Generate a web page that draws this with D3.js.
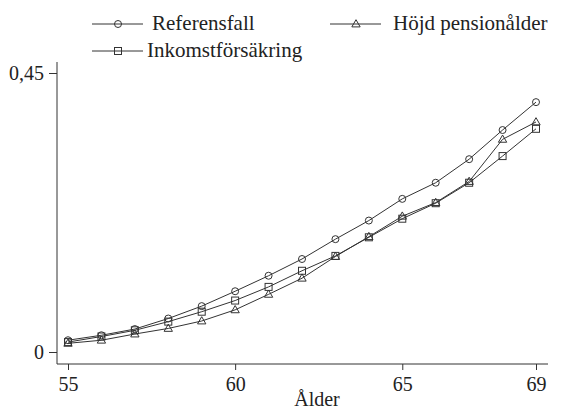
<!DOCTYPE html>
<html>
<head>
<meta charset="utf-8">
<script src="https://cdn.jsdelivr.net/npm/d3@7"></script>
<style>
  body { margin: 0; background: #fff; }
  text { font-family: "Liberation Serif", "DejaVu Serif", serif; fill: #222; }
</style>
</head>
<body>
<svg id="chart" width="561" height="412"></svg>
<script>
// data
const ages = [55, 56, 57, 58, 59, 60, 61, 62, 63, 64, 65, 66, 67, 68, 69];
const referensfall = [0.019, 0.027, 0.037, 0.054, 0.074, 0.098, 0.123, 0.150, 0.182, 0.212, 0.247, 0.273, 0.311, 0.358, 0.403];
const hojdPension = [0.014, 0.019, 0.029, 0.038, 0.050, 0.068, 0.093, 0.119, 0.154, 0.186, 0.219, 0.241, 0.275, 0.343, 0.371];
const inkomst = [0.016, 0.025, 0.035, 0.049, 0.065, 0.083, 0.105, 0.131, 0.155, 0.185, 0.215, 0.240, 0.273, 0.316, 0.360];
const xTicks = [55, 60, 65, 69];
const yTicks = [0, 0.45];
const seriesNames = ["Referensfall", "Höjd pensionålder", "Inkomstförsäkring"];

const svg = d3.select("#chart");
const ink = "#333";

let xScale = d3.scaleLinear().domain([55, 69]).range([68, 536]);
let yScale = d3.scaleLinear().domain([0, 0.45]).range([352, 73]);

// plot region frame (axes offset from data range, Stata style)
let axisX = 57, axisY = 364, axisTop = 62, axisRight = 548;

svg.append("line")
    .attr("x1", axisX).attr("x2", axisX)
    .attr("y1", axisTop).attr("y2", axisY)
    .attr("stroke", ink).attr("stroke-width", 1);
svg.append("line")
    .attr("x1", axisX).attr("x2", axisRight)
    .attr("y1", axisY).attr("y2", axisY)
    .attr("stroke", ink).attr("stroke-width", 1);

let fmt = d => d === 0 ? "0" : d3.format(".2f")(d).replace(".", ",");

let yAxis = svg.append("g")
    .attr("transform", "translate(" + axisX + ",0)")
    .call(d3.axisLeft(yScale).tickValues(yTicks).tickSize(8).tickPadding(5).tickFormat(fmt));
yAxis.select(".domain").remove();
yAxis.selectAll("line").attr("stroke", ink);
yAxis.selectAll("text").style("font-size", "20px").attr("fill", "#222")
    .style("font-family", "'Liberation Serif', serif");

let xAxis = svg.append("g")
    .attr("transform", "translate(0," + axisY + ")")
    .call(d3.axisBottom(xScale).tickValues(xTicks).tickSize(6).tickPadding(7).tickFormat(d3.format("d")));
xAxis.select(".domain").remove();
xAxis.selectAll("line").attr("stroke", ink);
xAxis.selectAll("text").style("font-size", "20px").attr("fill", "#222")
    .style("font-family", "'Liberation Serif', serif");

svg.append("text")
    .attr("x", 317)
    .attr("y", 406)
    .attr("text-anchor", "middle")
    .style("font-size", "20px")
    .text("Ålder");

// markers
let drawMarker = function (g, type, x, y) {
    if (type === "circle") {
        g.append("circle").attr("cx", x).attr("cy", y).attr("r", 3.5)
            .attr("fill", "none").attr("stroke", ink).attr("stroke-width", 1);
    } else if (type === "square") {
        g.append("rect").attr("x", x - 3.5).attr("y", y - 3.5).attr("width", 7).attr("height", 7)
            .attr("fill", "none").attr("stroke", ink).attr("stroke-width", 1);
    } else {
        g.append("path")
            .attr("d", d3.symbol().type(d3.symbolTriangle).size(30)())
            .attr("transform", "translate(" + x + "," + (y + 0.5) + ")")
            .attr("fill", "none").attr("stroke", ink).attr("stroke-width", 1);
    }
};

let series = [
    { name: seriesNames[0], values: referensfall, marker: "circle" },
    { name: seriesNames[1], values: hojdPension, marker: "triangle" },
    { name: seriesNames[2], values: inkomst, marker: "square" }
];

let line = d3.line()
    .x(d => xScale(d.age))
    .y(d => yScale(d.v));

let plot = svg.append("g");
for (let s of series) {
    let pts = ages.map((a, i) => ({ age: a, v: s.values[i] }));
    plot.append("path")
        .datum(pts)
        .attr("fill", "none")
        .attr("stroke", ink)
        .attr("stroke-width", 1)
        .attr("d", line);
    for (let p of pts) {
        drawMarker(plot, s.marker, xScale(p.age), yScale(p.v));
    }
}

// legend
let legendPos = [
    { x: 92, y: 24, tx: 152 },
    { x: 330, y: 24, tx: 393 },
    { x: 92, y: 51, tx: 147 }
];
let legend = svg.append("g");
series.forEach(function (s, i) {
    let p = legendPos[i];
    legend.append("line")
        .attr("x1", p.x).attr("x2", p.x + 51)
        .attr("y1", p.y).attr("y2", p.y)
        .attr("stroke", ink).attr("stroke-width", 1);
    drawMarker(legend, s.marker, p.x + 26, p.y);
    legend.append("text")
        .attr("x", p.tx)
        .attr("y", p.y + 6)
        .style("font-size", "21px")
        .text(s.name);
});
</script>
</body>
</html>
